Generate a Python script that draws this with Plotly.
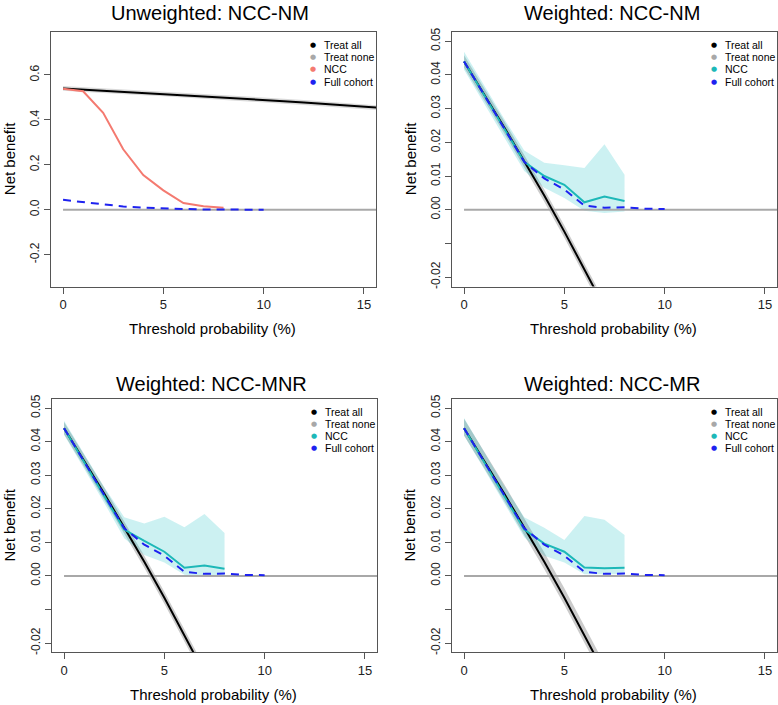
import plotly.graph_objects as go

# ---------------- data ----------------
PANEL_TITLES = ["Unweighted: NCC-NM", "Weighted: NCC-NM", "Weighted: NCC-MNR", "Weighted: NCC-MR"]
LEGEND_LABELS = ["Treat all", "Treat none", "NCC", "Full cohort"]
X_TICKS = [0, 5, 10, 15]
Y_TICKS_UNW = [-0.2, 0.0, 0.2, 0.4, 0.6]
Y_TICKTEXT_UNW = ["-0.2", "0.0", "0.2", "0.4", "0.6"]
Y_TICKS_W = [-0.02, -0.01, 0.0, 0.01, 0.02, 0.03, 0.04, 0.05]
Y_TICKTEXT_W = ["-0.02", "", "0.00", "0.01", "0.02", "0.03", "0.04", "0.05"]

# Unweighted panel
TA_UNW_X = list(range(0, 17))
TA_UNW = [0.540, 0.535, 0.531, 0.526, 0.521, 0.516, 0.511, 0.505, 0.500,
          0.494, 0.489, 0.483, 0.477, 0.471, 0.465, 0.459, 0.452]
TA_UNW_LO = [0.529, 0.524, 0.520, 0.515, 0.510, 0.505, 0.500, 0.494, 0.489,
             0.483, 0.478, 0.472, 0.466, 0.460, 0.454, 0.448, 0.441]
TA_UNW_HI = [0.551, 0.546, 0.542, 0.537, 0.532, 0.527, 0.522, 0.516, 0.511,
             0.505, 0.500, 0.494, 0.488, 0.482, 0.476, 0.470, 0.463]
NCC_UNW_X = [0, 1, 2, 3, 4, 5, 6, 7, 8]
NCC_UNW = [0.538, 0.527, 0.431, 0.269, 0.154, 0.086, 0.030, 0.015, 0.009]

# Treat none (all panels)
TN_X = [0, 16]
TN_Y = [0.0, 0.0]

# Full cohort (all panels)
FC_X = [0, 1, 2, 3, 4, 5, 6, 7, 8, 9, 10]
FC_Y = [0.0440, 0.0341, 0.0242, 0.0142, 0.0093, 0.0060, 0.0012, 0.0006, 0.0007, 0.0003, 0.0002]

# Weighted treat all
TA_W_X = [0, 1, 2, 3, 4, 5, 6, 7]
TA_W = [0.0440, 0.0343, 0.0245, 0.0144, 0.0042, -0.0065, -0.0177, -0.0290]
TA_W_LO = [0.0422, 0.0325, 0.0227, 0.0126, 0.0024, -0.0083, -0.0195, -0.0308]
TA_W_HI = [0.0458, 0.0361, 0.0263, 0.0162, 0.0060, -0.0047, -0.0159, -0.0272]
TA_W4_LO = [0.0418, 0.0321, 0.0223, 0.0122, 0.0020, -0.0087, -0.0199, -0.0312]
TA_W4_HI = [0.0468, 0.0371, 0.0273, 0.0172, 0.0070, -0.0037, -0.0149, -0.0262]

# Weighted NCC
NCC_W_X = [0, 1, 2, 3, 4, 5, 6, 7, 8]
NCC_NM = [0.0440, 0.0340, 0.0241, 0.0142, 0.0100, 0.0074, 0.0022, 0.0039, 0.0026]
NCC_NM_LO = [0.0415, 0.0315, 0.0215, 0.0115, 0.0065, 0.0035, -0.0003, -0.0010, -0.0005]
NCC_NM_HI = [0.0469, 0.0368, 0.0270, 0.0176, 0.0139, 0.0132, 0.0124, 0.0194, 0.0104]
NCC_MNR = [0.0440, 0.0340, 0.0241, 0.0138, 0.0104, 0.0072, 0.0024, 0.0031, 0.0021]
NCC_MNR_LO = [0.0420, 0.0318, 0.0218, 0.0112, 0.0062, 0.0040, 0.0003, 0.0000, 0.0000]
NCC_MNR_HI = [0.0462, 0.0362, 0.0265, 0.0175, 0.0156, 0.0176, 0.0145, 0.0184, 0.0128]
NCC_MR = [0.0440, 0.0340, 0.0241, 0.0138, 0.0096, 0.0072, 0.0025, 0.0023, 0.0024]
NCC_MR_LO = [0.0418, 0.0318, 0.0218, 0.0115, 0.0060, 0.0040, 0.0005, 0.0004, 0.0005]
NCC_MR_HI = [0.0470, 0.0368, 0.0268, 0.0175, 0.0143, 0.0107, 0.0178, 0.0167, 0.0122]

# ---------------- style ----------------
W, H = 778, 705
FONT = "Liberation Sans, Arial, Helvetica, sans-serif"
C_BLACK = "#000000"
C_GREY = "#A8A8A8"
C_SALMON = "#F47A70"
C_CYAN = "#1DB8B8"
C_BLUE = "#1E22F0"
BAND_GREY = "rgba(140,140,140,0.45)"
BAND_GREY_UNW = "rgba(160,160,160,0.40)"
BAND_CYAN = "rgba(40,195,200,0.24)"
AXIS_COL = "#555555"

# panel boxes in pixels: (left, top, right, bottom)
BOXES = [(51, 28, 376, 285), (452, 28, 777, 285), (52, 398, 377, 654), (452, 398, 777, 654)]


def px(x):
    return x / W


def py(y):
    return 1 - y / H


fig = go.Figure()


def band(xs, lo, hi, color, k):
    fig.add_trace(go.Scatter(x=list(xs) + list(xs)[::-1], y=list(hi) + list(lo)[::-1],
                             fill="toself", fillcolor=color, mode="lines",
                             line=dict(width=0), hoverinfo="skip", showlegend=False,
                             xaxis="x" + k, yaxis="y" + k))


def line(xs, ys, color, width, k, dash=None):
    fig.add_trace(go.Scatter(x=xs, y=ys, mode="lines",
                             line=dict(color=color, width=width, dash=dash),
                             showlegend=False, hoverinfo="skip",
                             xaxis="x" + k, yaxis="y" + k))


# Panel 1 (unweighted)
k = ""
band(TA_UNW_X, TA_UNW_LO, TA_UNW_HI, BAND_GREY_UNW, k)
line(TN_X, TN_Y, C_GREY, 2, k)
line(TA_UNW_X, TA_UNW, C_BLACK, 2, k)
line(NCC_UNW_X, NCC_UNW, C_SALMON, 2, k)
line(FC_X, FC_Y, C_BLUE, 2, k, dash="8px,6px")

weighted = [
    ("2", NCC_NM, NCC_NM_LO, NCC_NM_HI, TA_W_LO, TA_W_HI),
    ("3", NCC_MNR, NCC_MNR_LO, NCC_MNR_HI, TA_W_LO, TA_W_HI),
    ("4", NCC_MR, NCC_MR_LO, NCC_MR_HI, TA_W4_LO, TA_W4_HI),
]
for k, ncc, lo, hi, talo, tahi in weighted:
    band(TA_W_X, talo, tahi, BAND_GREY, k)
    band(NCC_W_X, lo, hi, BAND_CYAN, k)
    line(TN_X, TN_Y, C_GREY, 2, k)
    line(TA_W_X, TA_W, C_BLACK, 2, k)
    line(NCC_W_X, ncc, C_CYAN, 2, k)
    line(FC_X, FC_Y, C_BLUE, 2, k, dash="8px,6px")

axis_common = dict(showline=True, linecolor=AXIS_COL, linewidth=1, mirror=True,
                   showgrid=False, zeroline=False, ticks="outside", ticklen=6,
                   tickcolor=AXIS_COL, tickwidth=1)

layout_axes = {}
for i, (l, t, r, b) in enumerate(BOXES):
    suffix = "" if i == 0 else str(i + 1)
    layout_axes["xaxis" + suffix] = dict(
        axis_common, domain=[px(l), px(r)], range=[-0.6, 15.6],
        tickvals=X_TICKS, ticktext=[str(v) for v in X_TICKS],
        tickfont=dict(family=FONT, size=13, color="#222"),
        anchor="y" + suffix)
    if i == 0:
        yr, tv, tt = [-0.342, 0.792], Y_TICKS_UNW, Y_TICKTEXT_UNW
    else:
        yr, tv, tt = [-0.0228, 0.0528], Y_TICKS_W, Y_TICKTEXT_W
    layout_axes["yaxis" + suffix] = dict(
        axis_common, domain=[py(b), py(t)], range=yr, tickvals=tv, ticktext=tt,
        tickangle=-90, tickfont=dict(family=FONT, size=12, color="#222"),
        anchor="x" + suffix)

annotations = []
legend_colors = [
    [C_BLACK, C_GREY, C_SALMON, C_BLUE],
    [C_BLACK, C_GREY, C_CYAN, C_BLUE],
    [C_BLACK, C_GREY, C_CYAN, C_BLUE],
    [C_BLACK, C_GREY, C_CYAN, C_BLUE],
]
title_y = [9, 9, 383, 383]
for i, (l, t, r, b) in enumerate(BOXES):
    cx = (l + r) / 2
    annotations.append(dict(text=PANEL_TITLES[i], x=px(cx - 3), y=py(title_y[i]),
                            xref="paper", yref="paper", showarrow=False,
                            xanchor="center", yanchor="middle",
                            font=dict(family=FONT, size=20, color="#000")))
    annotations.append(dict(text="Threshold probability (%)", x=px(cx - 1), y=py(b + 42),
                            xref="paper", yref="paper", showarrow=False,
                            xanchor="center", yanchor="middle",
                            font=dict(family=FONT, size=15, color="#000")))
    annotations.append(dict(text="Net benefit", x=px(l - 42), y=py((t + b) / 2),
                            xref="paper", yref="paper", showarrow=False, textangle=-90,
                            xanchor="center", yanchor="middle",
                            font=dict(family=FONT, size=15, color="#000")))
    for j, lab in enumerate(LEGEND_LABELS):
        ry = t + 13 + j * 12.4
        annotations.append(dict(text="●", x=px(l + 262), y=py(ry),
                                xref="paper", yref="paper", showarrow=False,
                                xanchor="center", yanchor="middle",
                                font=dict(family="DejaVu Sans", size=7, color=legend_colors[i][j])))
        annotations.append(dict(text=lab, x=px(l + 271), y=py(ry),
                                xref="paper", yref="paper", showarrow=False,
                                xanchor="left", yanchor="middle",
                                font=dict(family=FONT, size=10.5, color="#000")))

fig.update_layout(
    width=W, height=H, autosize=False,
    margin=dict(l=0, r=0, t=0, b=0),
    paper_bgcolor="white", plot_bgcolor="white",
    showlegend=False,
    annotations=annotations,
    **layout_axes,
)

POST = ("document.documentElement.style.margin='0';document.documentElement.style.padding='0';"
        "document.body.style.margin='0';document.body.style.padding='0';"
        "document.body.style.overflow='hidden';document.documentElement.style.overflow='hidden';")
fig.write_html("out.html", post_script=POST, config={"displayModeBar": False})
